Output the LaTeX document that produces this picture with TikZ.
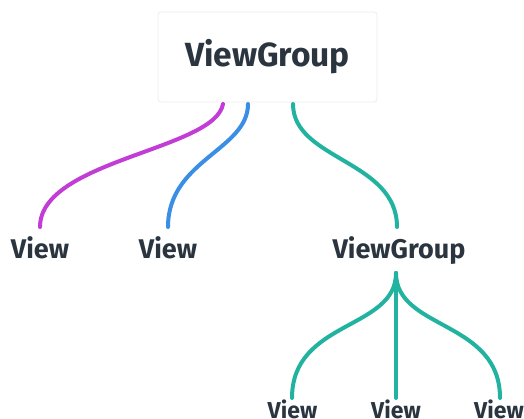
\documentclass[tikz,border=0pt]{standalone}
\usepackage{fontspec}
\setmainfont{Fira Sans}
\definecolor{ink}{HTML}{2B3540}
\definecolor{magentaline}{HTML}{C23CD6}
\definecolor{blueline}{HTML}{3A8EE6}
\definecolor{tealline}{HTML}{22B3A0}
\definecolor{boxedge}{HTML}{EDEDED}
\tikzset{
  link/.style={line width=4pt, line cap=round},
  label/.style={text=ink, font=\bfseries\fontsize{27}{27}\selectfont, inner sep=0pt, anchor=base},
  small/.style={text=ink, font=\bfseries\fontsize{23}{23}\selectfont, inner sep=0pt, anchor=base},
  rootbox/.style={draw=boxedge, line width=0.8pt, rounded corners=3pt, fill=white,
    minimum width=219pt, minimum height=90pt, text=ink,
    font=\bfseries\fontsize{33.5}{33.5}\selectfont}
}
\begin{document}
\begin{tikzpicture}[x=1pt,y=-1pt]
\useasboundingbox (0,0) rectangle (524,419);
% root container
\node[rootbox] (root) at (267.5,57) {ViewGroup};
% second level
\node[label] (v1) at (40,259) {View};
\node[label] (v2) at (168,259) {View};
\node[label] (g2) at (399,259) {ViewGroup};
% third level
\node[small] (w1) at (292.5,418) {View};
\node[small] (w2) at (396,418) {View};
\node[small] (w3) at (499,418) {View};
% attachment points
\coordinate (r1) at (223,104);
\coordinate (r2) at (248,104);
\coordinate (r3) at (293,104);
\coordinate (e1) at (40,227);
\coordinate (e2) at (168,227);
\coordinate (e3) at (397,227);
\coordinate (g2s) at (396,273);
\coordinate (f1) at (292,398);
\coordinate (f2) at (396,398);
\coordinate (f3) at (500,398);
% connectors
\draw[link, magentaline] (r1) .. controls (215,150) and (40,160) .. (e1);
\draw[link, blueline] (r2) .. controls (248,150) and (168,160) .. (e2);
\draw[link, tealline] (r3) .. controls (293,160) and (397,160) .. (e3);
\draw[link, tealline] (g2s) .. controls (396,330) and (292,320) .. (f1);
\draw[link, tealline] (g2s) -- (f2);
\draw[link, tealline] (g2s) .. controls (396,330) and (500,320) .. (f3);
\end{tikzpicture}
\end{document}
